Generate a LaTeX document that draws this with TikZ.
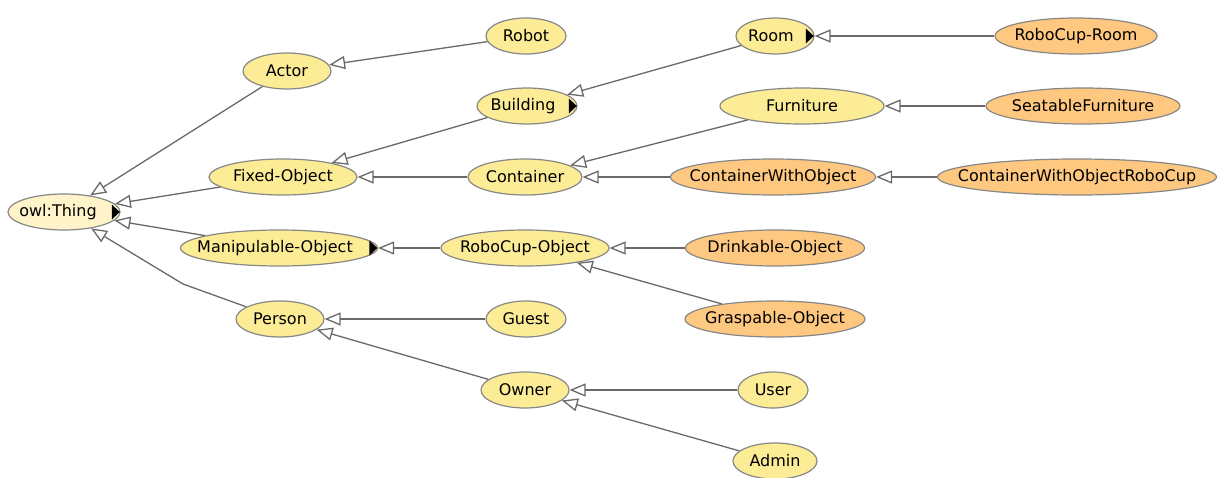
\documentclass[tikz,border=0pt]{standalone}
\usepackage{fontspec}
\setmainfont{DejaVu Sans}
\usetikzlibrary{arrows.meta,shapes.geometric}

\definecolor{clsyellow}{RGB}{252,236,150}
\definecolor{clsorange}{RGB}{254,200,128}
\definecolor{clsthing}{RGB}{255,243,202}
\definecolor{bordergray}{RGB}{135,135,135}
\definecolor{edgegray}{RGB}{105,105,105}

\newcommand{\lbl}[1]{\makebox[0pt]{#1}}

\begin{document}
\begin{tikzpicture}[x=1pt,y=-1pt,
    cls/.style={ellipse, draw=bordergray, line width=1.2pt, fill=clsyellow,
                minimum height=36pt, minimum width=#1, inner sep=0pt,
                font=\fontsize{16}{19}\selectfont},
    leaf/.style={cls=#1, fill=clsorange},
    isa/.style={draw=edgegray, line width=1.3pt,
                -{Triangle[open,length=16pt,width=13pt]}}]

\useasboundingbox (0,0) rectangle (1219,477);

% column 1
\node [cls=112pt, fill=clsthing] (thing) at (64,212) {\lbl{owl:Thing\hspace{12pt}}};

% column 2
\node [cls=88pt]  (actor)  at (287,71)  {\lbl{Actor}};
\node [cls=148pt] (fixed)  at (283,177) {\lbl{Fixed-Object}};
\node [cls=197pt] (manip)  at (279,248) {\lbl{Manipulable-Object\hspace{8pt}}};
\node [cls=88pt]  (person) at (280,319) {\lbl{Person}};

% column 3
\node [cls=80pt]  (robot)     at (526,36)  {\lbl{Robot}};
\node [cls=100pt] (building)  at (527,106) {\lbl{Building\hspace{8pt}}};
\node [cls=114pt] (container) at (525,177) {\lbl{Container}};
\node [cls=168pt] (rcobj)     at (525,248) {\lbl{RoboCup-Object}};
\node [cls=80pt]  (guest)     at (526,319) {\lbl{Guest}};
\node [cls=88pt]  (owner)     at (525,390) {\lbl{Owner}};

% column 4
\node [cls=78pt]   (room)      at (775,36)  {\lbl{Room\hspace{8pt}}};
\node [cls=164pt]  (furniture) at (802,106) {\lbl{Furniture}};
\node [leaf=205pt] (cwo)       at (773,177) {\lbl{ContainerWithObject}};
\node [leaf=179pt] (drink)     at (775,248) {\lbl{Drinkable-Object}};
\node [leaf=180pt] (grasp)     at (775,319) {\lbl{Graspable-Object}};
\node [cls=70pt]   (user)      at (773,390) {\lbl{User}};
\node [cls=84pt]   (admin)     at (775,461) {\lbl{Admin}};

% column 5
\node [leaf=162pt] (rcroom)   at (1076,36)  {\lbl{RoboCup-Room}};
\node [leaf=194pt] (seatable) at (1083,106) {\lbl{SeatableFurniture}};
\node [leaf=279pt] (cwor)     at (1077,177) {\lbl{ContainerWithObjectRoboCup}};

% collapsed markers
\foreach \n in {thing,manip,building,room}
    \fill ([xshift=-0.8pt]\n.east) -- ++(-8,-7.5) -- ++(0,15) -- cycle;

% subclass links
\coordinate (bend) at (183,284);

\draw [isa] (actor)  -- (thing);
\draw [isa] (fixed)  -- (thing);
\draw [isa] (manip)  -- (thing);
\draw [isa] (person) -- (bend) -- (thing);

\draw [isa] (robot)     -- (actor);
\draw [isa] (building)  -- (fixed);
\draw [isa] (container) -- (fixed);
\draw [isa] (rcobj)     -- (manip);
\draw [isa] (guest)     -- (person);
\draw [isa] (owner)     -- (person);

\draw [isa] (room)      -- (building);
\draw [isa] (furniture) -- (container);
\draw [isa] (cwo)       -- (container);
\draw [isa] (drink)     -- (rcobj);
\draw [isa] (grasp)     -- (rcobj);
\draw [isa] (user)      -- (owner);
\draw [isa] (admin)     -- (owner);

\draw [isa] (rcroom)   -- (room);
\draw [isa] (seatable) -- (furniture);
\draw [isa] (cwor)     -- (cwo);

\end{tikzpicture}
\end{document}
